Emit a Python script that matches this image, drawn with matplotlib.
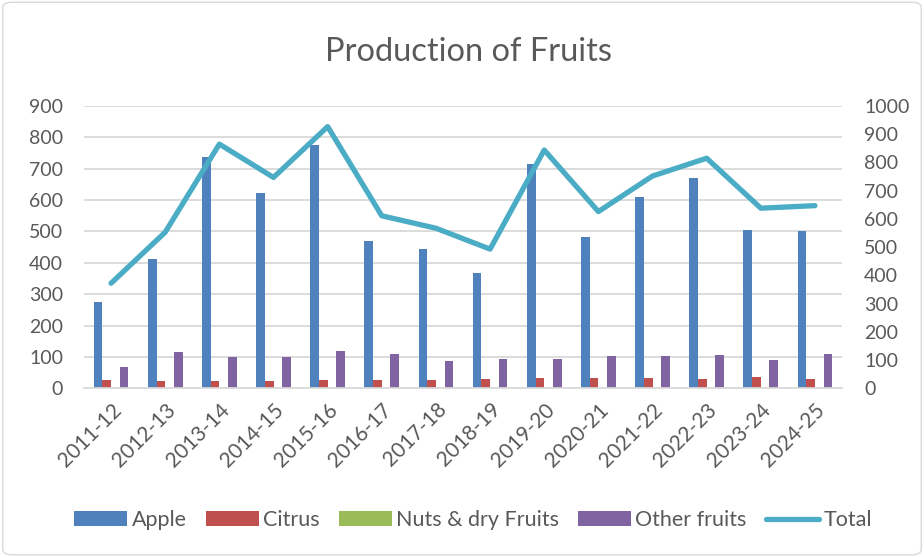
import numpy as np
import matplotlib.pyplot as plt
from matplotlib.patches import FancyBboxPatch

years = ["2011-12", "2012-13", "2013-14", "2014-15", "2015-16", "2016-17", "2017-18",
         "2018-19", "2019-20", "2020-21", "2021-22", "2022-23", "2023-24", "2024-25"]
apple = [274, 412, 738, 624, 776, 468, 445, 368, 714, 481, 611, 671, 505, 502]
citrus = [25, 23, 22, 22, 26, 28, 26, 29, 32, 33, 32, 31, 35, 29]
nuts = [2, 2, 2, 2, 2, 2, 2, 2, 2, 2, 2, 2, 2, 2]
other = [69, 115, 100, 101, 120, 110, 87, 93, 93, 104, 104, 106, 91, 109]
total = [372, 553, 865, 747, 927, 611, 567, 493, 844, 626, 752, 815, 638, 647]

plt.rcParams['font.family'] = ['Lato', 'DejaVu Sans']
txt = '#595959'
grid = '#D9D9D9'

fig = plt.figure(figsize=(9.24, 5.57), dpi=100)
ax = fig.add_axes([0.0909, 0.3029, 0.8204, 0.5068])
ax2 = ax.twinx()

x = np.arange(len(years))
w = 0.16
ax.bar(x - 1.5 * w, apple, w, color='#4F81BD', label='Apple')
ax.bar(x - 0.5 * w, citrus, w, color='#C0504D', label='Citrus')
ax.bar(x + 0.5 * w, nuts, w, color='#9BBB59', label='Nuts & dry Fruits')
ax.bar(x + 1.5 * w, other, w, color='#8064A2', label='Other fruits')
ax2.plot(x, total, color='#4BACC6', lw=3.8, solid_capstyle='round', label='Total')

ax.set_xlim(-0.5, len(years) - 0.5)
ax.set_ylim(0, 900)
ax.set_yticks(range(0, 901, 100))
ax2.set_ylim(0, 1000)
ax2.set_yticks(range(0, 1001, 100))
ax.yaxis.grid(True, color=grid, lw=1.3)
ax.set_axisbelow(True)

for a in (ax, ax2):
    for s in a.spines.values():
        s.set_visible(False)
    a.tick_params(length=0, colors=txt, labelsize=14)
ax.spines['bottom'].set_visible(True)
ax.spines['bottom'].set_color(grid)
ax.spines['bottom'].set_linewidth(1.3)

ax.set_xticks(x)
ax.set_xticklabels(years, rotation=45, ha='right', rotation_mode='anchor', fontsize=15)
ax.tick_params(axis='x', pad=8)
ax.tick_params(axis='y', pad=15)
ax2.tick_params(axis='y', pad=16)

fig.text(0.507, 0.907, 'Production of Fruits', ha='center', va='center', fontsize=23.5, color=txt)

h1, l1 = ax.get_legend_handles_labels()
h2, l2 = ax2.get_legend_handles_labels()
fig.legend(h1 + h2, l1 + l2, loc='center', bbox_to_anchor=(0.512, 0.066), ncol=5,
           frameon=False, fontsize=15.5, labelcolor=txt, handlelength=2.45,
           handletextpad=0.2, columnspacing=0.9)

fig.patches.append(FancyBboxPatch((0.003, 0.004), 0.994, 0.992, boxstyle='round,pad=0,rounding_size=0.01',
                                  transform=fig.transFigure, fill=False, edgecolor='#D9D9D9', lw=1))

fig.savefig('out.png', dpi=100)
